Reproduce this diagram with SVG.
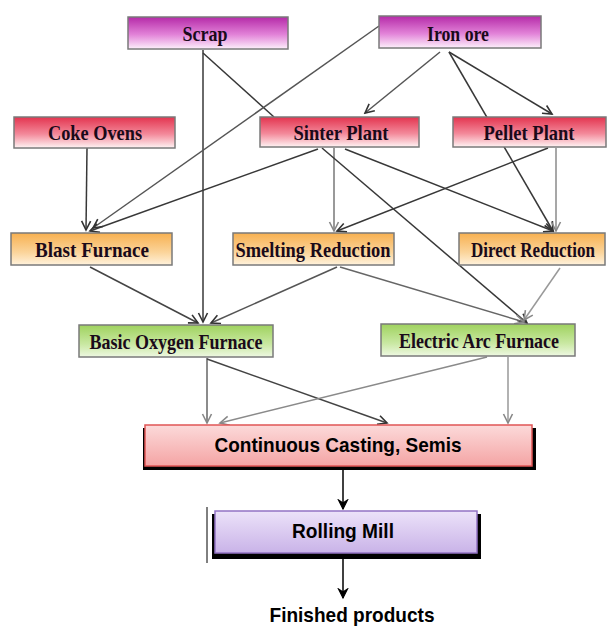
<svg xmlns="http://www.w3.org/2000/svg" width="609" height="628" viewBox="0 0 609 628">
<defs>
<linearGradient id="gMag" x1="0" y1="0" x2="0" y2="1"><stop offset="0" stop-color="#b52aa8"/><stop offset="0.55" stop-color="#e283d8"/><stop offset="1" stop-color="#fdf0fb"/></linearGradient>
<linearGradient id="gRed" x1="0" y1="0" x2="0" y2="1"><stop offset="0" stop-color="#e3344f"/><stop offset="0.55" stop-color="#f3899a"/><stop offset="1" stop-color="#fff4f4"/></linearGradient>
<linearGradient id="gOra" x1="0" y1="0" x2="0" y2="1"><stop offset="0" stop-color="#f7b050"/><stop offset="0.6" stop-color="#fbd49a"/><stop offset="1" stop-color="#fff2dc"/></linearGradient>
<linearGradient id="gGrn" x1="0" y1="0" x2="0" y2="1"><stop offset="0" stop-color="#9fd25e"/><stop offset="0.6" stop-color="#c9e8a2"/><stop offset="1" stop-color="#eef8e2"/></linearGradient>
<linearGradient id="gCC" x1="0" y1="0" x2="0" y2="1"><stop offset="0" stop-color="#fcdada"/><stop offset="1" stop-color="#f4a4a4"/></linearGradient>
<linearGradient id="gRM" x1="0" y1="0" x2="0" y2="1"><stop offset="0" stop-color="#ece2f9"/><stop offset="1" stop-color="#c9b3e8"/></linearGradient>
<marker id="aD" markerUnits="userSpaceOnUse" markerWidth="12" markerHeight="12" refX="10" refY="5.5" orient="auto"><path d="M1,1 L10,5.5 L1,10" fill="none" stroke="#333" stroke-width="1.6"/></marker>
<marker id="aG" markerUnits="userSpaceOnUse" markerWidth="12" markerHeight="12" refX="10" refY="5.5" orient="auto"><path d="M1,1 L10,5.5 L1,10" fill="none" stroke="#888" stroke-width="1.6"/></marker>
<marker id="aB" markerUnits="userSpaceOnUse" markerWidth="12" markerHeight="12" refX="10" refY="5.5" orient="auto"><path d="M1,1 L10,5.5 L1,10 L4,5.5 Z" fill="#000" stroke="#000" stroke-width="1.2"/></marker>
</defs>
<style>
.box{stroke:#7a7a7a;stroke-width:1.5}
.lbl{font-family:"Liberation Serif","DejaVu Serif",serif;font-weight:bold;font-size:22px;fill:#1a0a1a;text-anchor:middle}
.sans{font-family:"Liberation Sans",Arial,sans-serif;font-weight:bold;font-size:21px;fill:#000;text-anchor:middle}
.d{stroke:#383838;stroke-width:1.5;fill:none}
.g{stroke:#8a8a8a;stroke-width:1.5;fill:none}
.k{stroke:#000;stroke-width:1.5;fill:none}
</style>
<g id="connectors">
<line class="d" x1="203" y1="50" x2="203" y2="322" marker-end="url(#aD)"/>
<line class="d" x1="203" y1="53" x2="274" y2="117"/>
<line class="d" x1="379" y1="26" x2="93" y2="228" marker-end="url(#aD)" style="stroke:#555"/>
<line class="d" x1="440" y1="52" x2="365" y2="113" marker-end="url(#aD)" style="stroke:#555"/>
<line class="d" x1="449" y1="52" x2="552" y2="114" marker-end="url(#aD)"/>
<line class="d" x1="449" y1="52" x2="553" y2="231" marker-end="url(#aD)"/>
<line class="d" x1="87" y1="148" x2="86" y2="230" marker-end="url(#aD)"/>
<line class="d" x1="318" y1="149" x2="90" y2="231" marker-end="url(#aD)"/>
<line class="g" x1="334" y1="148" x2="334" y2="231" marker-end="url(#aG)" style="stroke:#777"/>
<line class="d" x1="322" y1="148" x2="527" y2="323" marker-end="url(#aD)"/>
<line class="d" x1="345" y1="149" x2="553" y2="231" marker-end="url(#aD)"/>
<line class="d" x1="548" y1="148" x2="337" y2="231" marker-end="url(#aD)"/>
<line class="g" x1="556" y1="148" x2="556" y2="231" marker-end="url(#aG)"/>
<line class="d" x1="90" y1="267" x2="198" y2="323" marker-end="url(#aD)" style="stroke:#444"/>
<line class="d" x1="337" y1="267" x2="211" y2="323" marker-end="url(#aD)" style="stroke:#555"/>
<line class="g" x1="340" y1="267" x2="524" y2="322" marker-end="url(#aG)" style="stroke:#666"/>
<line class="g" x1="560" y1="268" x2="524" y2="320" marker-end="url(#aG)" style="stroke:#999"/>
<line class="g" x1="207" y1="358" x2="207" y2="423" marker-end="url(#aG)" style="stroke:#666"/>
<line class="d" x1="207" y1="359" x2="387" y2="423" marker-end="url(#aD)" style="stroke:#444"/>
<line class="g" x1="487" y1="357" x2="220" y2="423" marker-end="url(#aG)"/>
<line class="g" x1="508" y1="357" x2="508" y2="423" marker-end="url(#aG)" style="stroke:#999"/>
<line class="k" x1="343" y1="470" x2="343" y2="509" marker-end="url(#aB)"/>
<line class="k" x1="343" y1="559" x2="343" y2="598" marker-end="url(#aB)"/>
</g>
<g id="scrap"><rect class="box" x="128" y="17" width="160" height="32" fill="url(#gMag)"/><text class="lbl" x="205" y="41" textLength="45" lengthAdjust="spacingAndGlyphs">Scrap</text></g>
<g id="iron-ore"><rect class="box" x="379" y="16" width="162" height="32" fill="url(#gMag)"/><text class="lbl" x="458" y="41" textLength="62" lengthAdjust="spacingAndGlyphs">Iron ore</text></g>
<g id="coke-ovens"><rect class="box" x="14" y="117" width="161" height="31" fill="url(#gRed)"/><text class="lbl" x="95" y="140" textLength="94" lengthAdjust="spacingAndGlyphs">Coke  Ovens</text></g>
<g id="sinter-plant"><rect class="box" x="260" y="117" width="159" height="30" fill="url(#gRed)"/><text class="lbl" x="341" y="140" textLength="95" lengthAdjust="spacingAndGlyphs">Sinter Plant</text></g>
<g id="pellet-plant"><rect class="box" x="453" y="117" width="153" height="30" fill="url(#gRed)"/><text class="lbl" x="529" y="140" textLength="91" lengthAdjust="spacingAndGlyphs">Pellet Plant</text></g>
<g id="blast-furnace"><rect class="box" x="11" y="233" width="161" height="32" fill="url(#gOra)"/><text class="lbl" x="92" y="257" textLength="114" lengthAdjust="spacingAndGlyphs">Blast  Furnace</text></g>
<g id="smelting-reduction"><rect class="box" x="233" y="233" width="161" height="32" fill="url(#gOra)"/><text class="lbl" x="313" y="257" textLength="155" lengthAdjust="spacingAndGlyphs">Smelting Reduction</text></g>
<g id="direct-reduction"><rect class="box" x="459" y="233" width="146" height="32" fill="url(#gOra)"/><text class="lbl" x="533" y="257" textLength="124" lengthAdjust="spacingAndGlyphs">Direct Reduction</text></g>
<g id="bof"><rect class="box" x="79" y="325" width="194" height="32" fill="url(#gGrn)"/><text class="lbl" x="176" y="349" textLength="173" lengthAdjust="spacingAndGlyphs">Basic Oxygen Furnace</text></g>
<g id="eaf"><rect class="box" x="381" y="324" width="194" height="32" fill="url(#gGrn)"/><text class="lbl" x="479" y="348" textLength="160" lengthAdjust="spacingAndGlyphs">Electric Arc Furnace</text></g>
<g id="continuous-casting"><rect x="143" y="428" width="393" height="42" fill="#000"/><rect x="145" y="425" width="387" height="41" fill="url(#gCC)" stroke="#e05555" stroke-width="1.5"/><text class="sans" x="338" y="452" font-size="22" textLength="247" lengthAdjust="spacingAndGlyphs">Continuous Casting, Semis</text></g>
<g id="rolling-mill"><line x1="207" y1="507" x2="207" y2="563" stroke="#000" stroke-width="1"/><rect x="212" y="514" width="269" height="45" fill="#000"/><rect x="215" y="511" width="262" height="42" fill="url(#gRM)" stroke="#9373c4" stroke-width="1.5"/><text class="sans" x="343" y="538" textLength="102" lengthAdjust="spacingAndGlyphs">Rolling Mill</text></g>
<g id="finished-products"><text class="sans" x="352" y="622" font-size="20" textLength="165" lengthAdjust="spacingAndGlyphs">Finished products</text></g>
</svg>
